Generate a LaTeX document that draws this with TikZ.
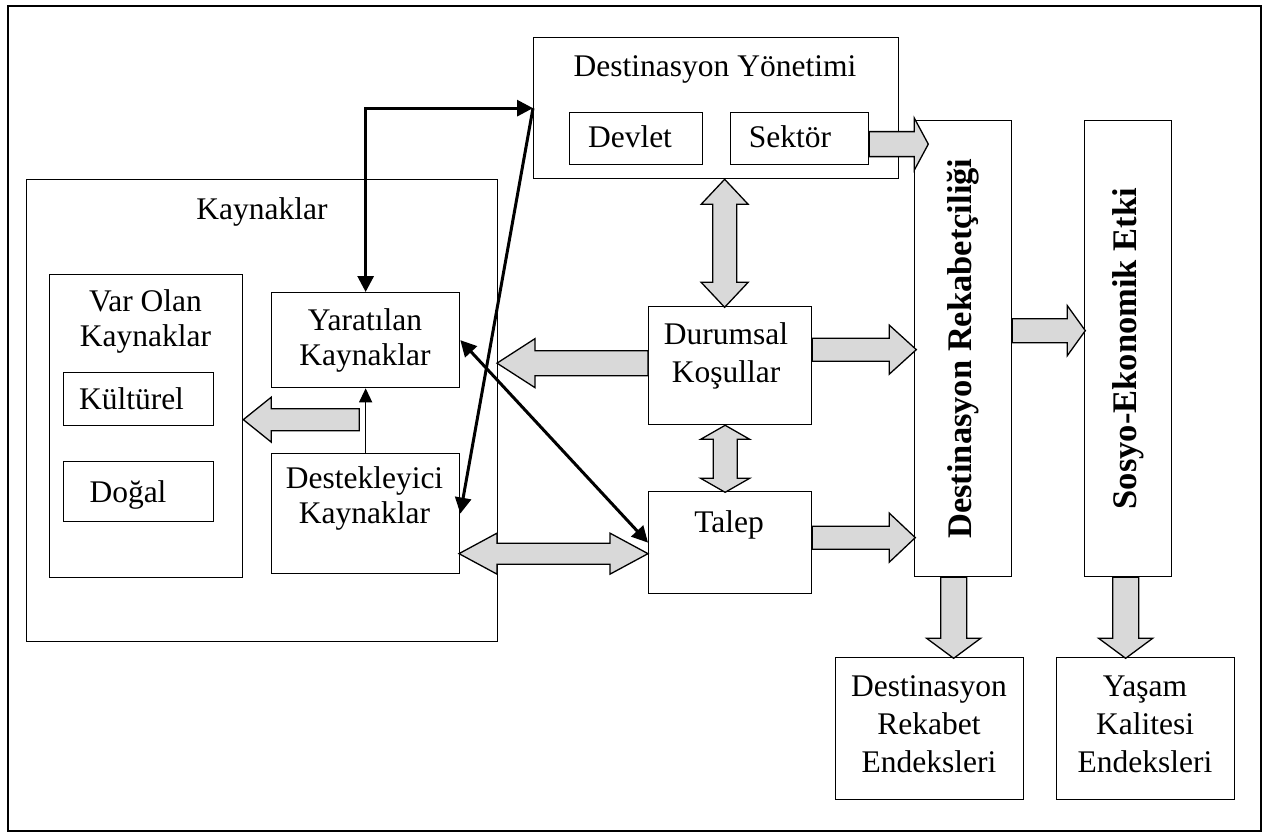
\documentclass[tikz,border=0pt]{standalone}
\usepackage{fontspec}
\setmainfont{Liberation Serif}
\usetikzlibrary{arrows.meta,calc}
\definecolor{ink}{HTML}{000000}
\definecolor{fatgray}{HTML}{D9D9D9}
\tikzset{>={Triangle[length=16pt,width=16pt]},
  box/.style={draw=ink,line width=1.3pt,inner sep=0pt,anchor=north west},
  txt/.style={inner sep=0pt,align=center,anchor=base,font=\fontsize{31.5}{38}\selectfont},
  txtt/.style={txt,font=\fontsize{31.5}{34.5}\selectfont},
  bigtxt/.style={inner sep=0pt,rotate=90,font=\fontsize{34.5}{40}\selectfont\bfseries},
  fat/.style={draw=ink,line width=1.3pt,fill=fatgray},
  heavy/.style={draw=ink,line width=3pt},
  thinarrow/.style={draw=ink,line width=1.3pt,-{Triangle[length=14pt,width=13pt]}},
  pics/fatone/.style args={#1/#2/#3/#4}{code={
    \draw[fat] (0,-#2) -- ({#1-#4},-#2) -- ({#1-#4},-#3) -- (#1,0) -- ({#1-#4},#3) -- ({#1-#4},#2) -- (0,#2) -- cycle;}},
  pics/fattwo/.style args={#1/#2/#3/#4}{code={
    \draw[fat] (0,0) -- (#4,-#3) -- (#4,-#2) -- ({#1-#4},-#2) -- ({#1-#4},-#3) -- (#1,0) -- ({#1-#4},#3) -- ({#1-#4},#2) -- (#4,#2) -- (#4,#3) -- cycle;}}}

\begin{document}
\begin{tikzpicture}[x=1pt,y=-1pt]
\useasboundingbox (0,0) rectangle (1267,832);
\draw[ink,line width=2.6pt] (8,6) rectangle (1261,831);

\node[box,minimum width=471pt,minimum height=462pt] (kay) at (26,179) {};
\node[box,minimum width=193pt,minimum height=303pt] (var) at (49,274) {};
\node[box,minimum width=150pt,minimum height=53pt] (kul) at (63,372) {};
\node[box,minimum width=150pt,minimum height=60pt] (dog) at (63,461) {};
\node[box,minimum width=188pt,minimum height=95pt] (yar) at (271,292) {};
\node[box,minimum width=188pt,minimum height=120pt] (des) at (271,453) {};
\node[box,minimum width=365pt,minimum height=141pt] (yon) at (533,37) {};
\node[box,minimum width=133pt,minimum height=52pt] (dev) at (569,112) {};
\node[box,minimum width=138pt,minimum height=52pt] (sek) at (730,112) {};
\node[box,minimum width=163pt,minimum height=118pt] (dur) at (648,306) {};
\node[box,minimum width=163pt,minimum height=102pt] (tal) at (648,491) {};
\node[box,minimum width=97pt,minimum height=456pt] (drc) at (914,120) {};
\node[box,minimum width=87pt,minimum height=456pt] (sec) at (1084,120) {};
\node[box,minimum width=188pt,minimum height=142pt] (dre) at (835,657) {};
\node[box,minimum width=178pt,minimum height=142pt] (yke) at (1056,657) {};

\node[txt] (tkay) at (262,219) {Kaynaklar};
\node[txtt] (tvar) at (145.5,346) {Var Olan\\Kaynaklar};
\node[txt] (tkul) at (131.5,409) {Kültürel};
\node[txt] (tdog) at (128,502) {Doğal};
\node[txtt] (tyar) at (365,365) {Yaratılan\\Kaynaklar};
\node[txtt] (tdes) at (364.5,523) {Destekleyici\\Kaynaklar};
\node[txt] (tyon) at (715,77) {Destinasyon Yönetimi};
\node[txt] (tdev) at (630,148) {Devlet};
\node[txt] (tsek) at (790,148) {Sektör};
\node[txt] (tdur) at (726,382) {Durumsal\\Koşullar};
\node[txt] (ttal) at (729,532) {Talep};
\node[txt] (tdre) at (929,772) {Destinasyon\\Rekabet\\Endeksleri};
\node[txt] (tyke) at (1145,772) {Yaşam\\Kalitesi\\Endeksleri};
\node[bigtxt] (tdrc) at (drc.center) {Destinasyon Rekabetçiliği};
\node[bigtxt] (tsec) at (sec.center) {Sosyo-Ekonomik Etki};

\pic at ($(sek.east)+(0,5.5)$) {fatone=59/12.5/26/14};
\pic at ($(drc.east)+(0,-18)$) {fatone=73/12/25/18};
\pic at ($(dur.east)+(0,-16)$) {fatone=104/11.5/24.5/27};
\pic at ($(tal.east)+(0,-5)$) {fatone=103/11.5/24.5/26};
\pic[rotate=180] at ($(dur.west)+(0,-2.5)$) {fatone=151/12.5/24.5/38};
\pic[rotate=180] at ($(var.east)+(116,-6.5)$) {fatone=116/11/22.5/28};
\pic at ($(tal.west)+(-189,11)$) {fattwo=189/10.5/20.5/38};
\pic[rotate=-90] at ($(yon.south)+(8.5,0)$) {fattwo=128/12/23.5/25};
\pic[rotate=-90] at ($(dur.south)+(-5,0)$) {fattwo=67/12/24.5/14};
\pic[rotate=-90] at ($(drc.south)+(-9.5,0)$) {fatone=81/13/27/20};
\pic[rotate=-90] at ($(sec.south)+(-2.5,0)$) {fatone=81/13/27/20};

\draw[thinarrow] (des.north) -- (yar.south);
\draw[heavy,<->] (yar.north) |- (yon.west);
\draw[heavy,->] (yon.west) -- (des.east);
\draw[heavy,<->] (yar.east) -- (tal.west);
\end{tikzpicture}
\end{document}
